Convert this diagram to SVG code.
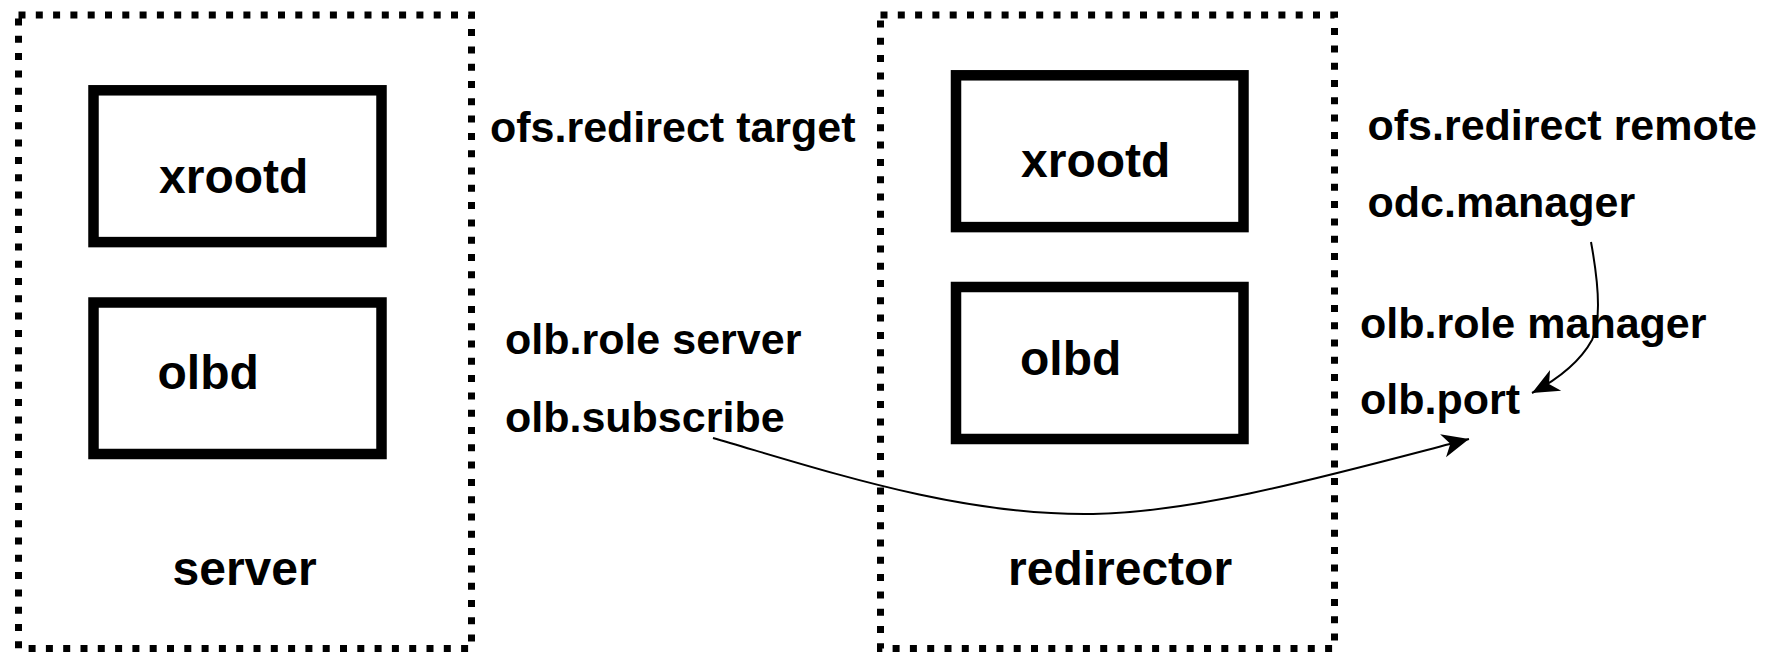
<svg xmlns="http://www.w3.org/2000/svg" width="1774" height="652" viewBox="0 0 1774 652">
  <style>
    .bg { fill: #ffffff; }
    .dotted { fill: none; stroke: #000; stroke-width: 7; stroke-dasharray: 7 10.3; }
    .box { fill: none; stroke: #000; stroke-width: 10.5; }
    .big { font-family: "Liberation Sans", Arial, sans-serif; font-weight: bold; font-size: 48px; fill: #000; }
    .lbl { font-family: "Liberation Sans", Arial, sans-serif; font-weight: bold; font-size: 43px; fill: #000; }
    .conn { fill: none; stroke: #000; stroke-width: 2; }
  </style>
  <defs>
    <marker id="arrow" markerUnits="userSpaceOnUse" markerWidth="30" markerHeight="30" viewBox="-26 -13 28 26" refX="0" refY="0" orient="auto">
      <path d="M0,0 L-25,-11 L-18,0 L-25,11 Z" fill="#000"/>
    </marker>
  </defs>
  <rect class="bg" x="0" y="0" width="1774" height="652"/>

  <g id="server">
    <rect class="dotted" x="18.5" y="15" width="453" height="633.5"/>
    <text class="big" x="172.5" y="585">server</text>
  </g>
  <g id="server-xrootd">
    <rect class="box" x="93.5" y="90.3" width="288" height="151.8"/>
    <text class="big" x="159" y="192.7">xrootd</text>
  </g>
  <g id="server-olbd">
    <rect class="box" x="93.5" y="302.5" width="288" height="151.5"/>
    <text class="big" x="157.5" y="389.3">olbd</text>
  </g>

  <g id="redirector">
    <rect class="dotted" x="880.5" y="15" width="454" height="633.5"/>
    <text class="big" x="1008" y="585">redirector</text>
  </g>
  <g id="redirector-xrootd">
    <rect class="box" x="956" y="75.3" width="287.5" height="151.8"/>
    <text class="big" x="1021" y="177.3">xrootd</text>
  </g>
  <g id="redirector-olbd">
    <rect class="box" x="956" y="287" width="287.5" height="152"/>
    <text class="big" x="1020" y="375">olbd</text>
  </g>

  <g id="server-config">
    <text class="lbl" x="490" y="141.7">ofs.redirect target</text>
    <text class="lbl" x="505" y="354">olb.role server</text>
    <text class="lbl" x="505" y="431.7">olb.subscribe</text>
  </g>
  <g id="redirector-config">
    <text class="lbl" x="1367.5" y="140">ofs.redirect remote</text>
    <text class="lbl" x="1367.5" y="216.7">odc.manager</text>
    <text class="lbl" x="1360" y="338.3">olb.role manager</text>
    <text class="lbl" x="1360" y="414">olb.port</text>
  </g>

  <g id="connectors">
    <path class="conn" d="M713,438 C830,472 960,516 1093,514 C1200,512 1330,475 1469,439" marker-end="url(#arrow)"/>
    <path class="conn" d="M1591,242 C1598,280 1602,320 1592,340 C1580,362 1560,378 1532,393" marker-end="url(#arrow)"/>
  </g>
</svg>
